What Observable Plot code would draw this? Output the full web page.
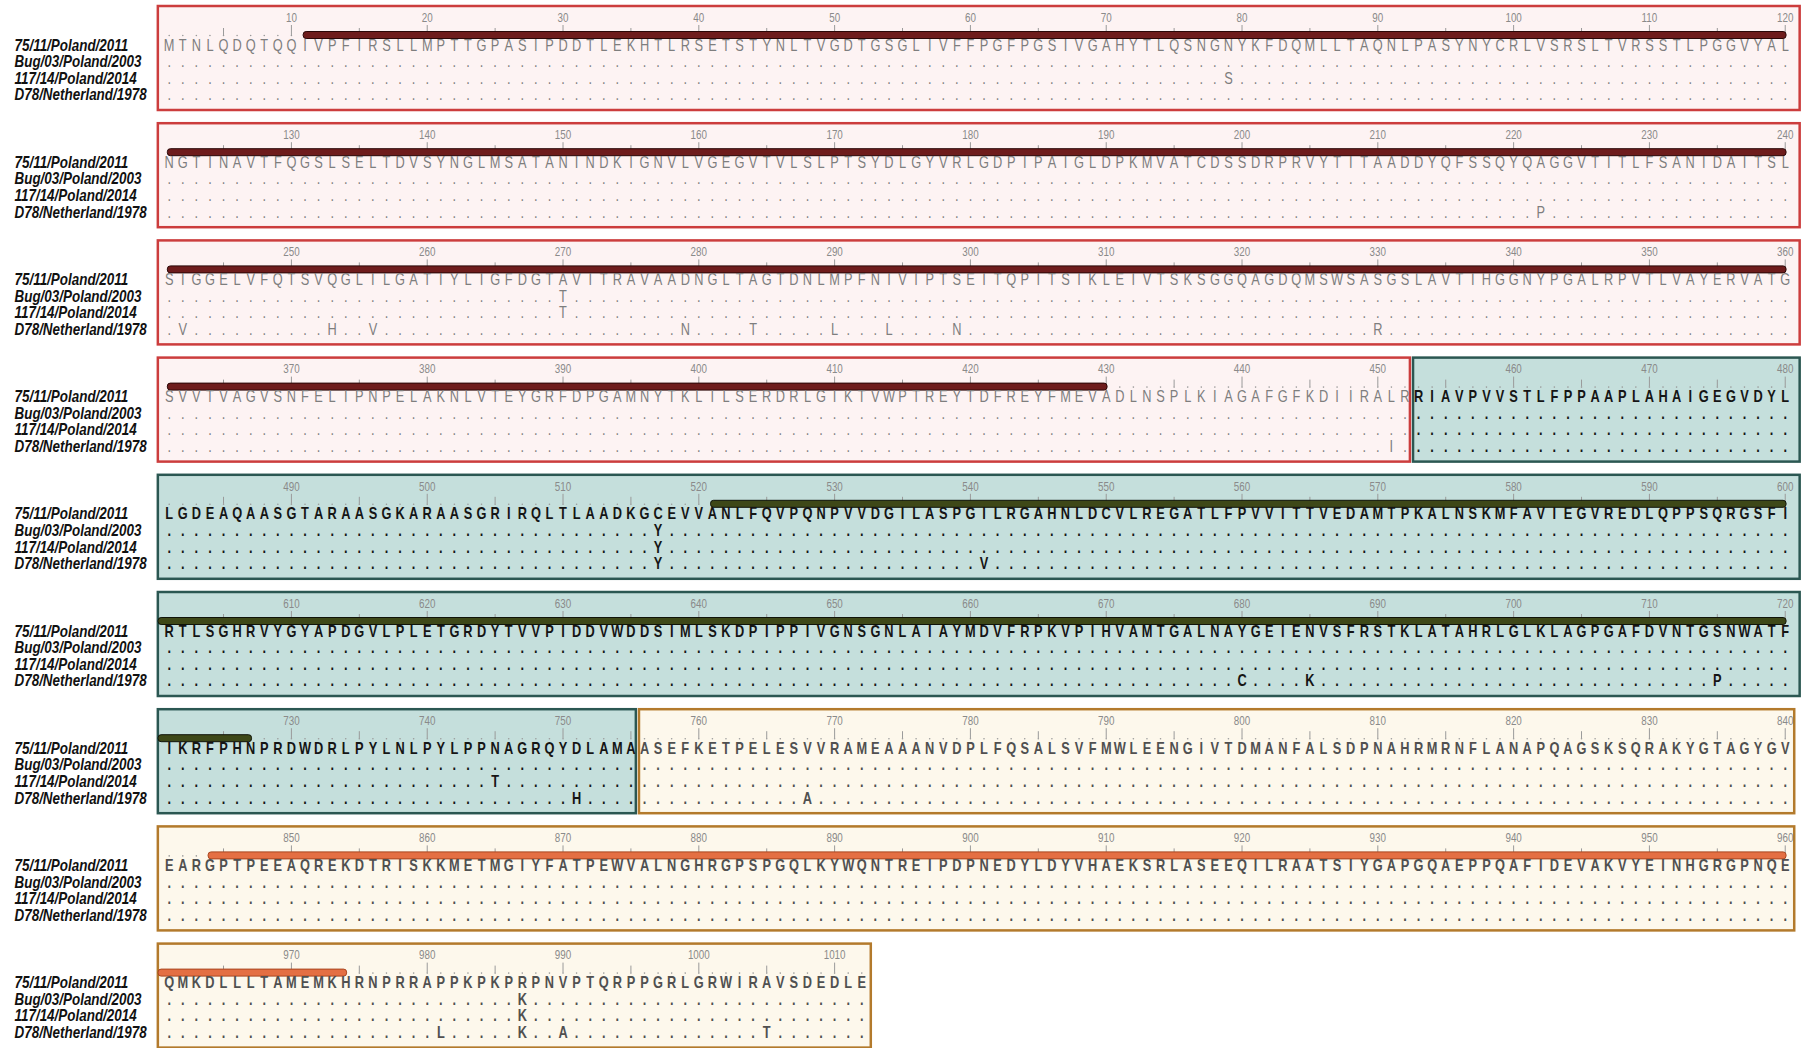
<!DOCTYPE html>
<html><head><meta charset="utf-8">
<script src="https://cdn.jsdelivr.net/npm/d3@7"></script>
<script src="https://cdn.jsdelivr.net/npm/@observablehq/plot@0.6"></script>
<style>
html,body{margin:0;padding:0;background:#fff;}
#chart svg{display:block;}
</style></head><body><div id="chart"></div>
<script>
// ---- data ----
const strains = ["75/11/Poland/2011", "Bug/03/Poland/2003", "117/14/Poland/2014", "D78/Netherland/1978"];
const referenceBlocks = [
  "MTNLQDQTQQIVPFIRSLLMPTTGPASIPDDTLEKHTLRSETSTYNLTVGDTGSGLIVFFPGFPGSIVGAHYTLQSNGNYKFDQMLLTAQNLPASYNYCRLVSRSLTVRSSTLPGGVYAL",
  "NGTINAVTFQGSLSELTDVSYNGLMSATANINDKIGNVLVGEGVTVLSLPTSYDLGYVRLGDPIPAIGLDPKMVATCDSSDRPRVYTITAADDYQFSSQYQAGGVTITLFSANIDAITSL",
  "SIGGELVFQTSVQGLILGATIYLIGFDGTAVITRAVAADNGLTAGTDNLMPFNIVIPTSEITQPITSIKLEIVTSKSGGQAGDQMSWSASGSLAVTIHGGNYPGALRPVTLVAYERVATG",
  "SVVTVAGVSNFELIPNPELAKNLVTEYGRFDPGAMNYTKLILSERDRLGIKTVWPTREYTDFREYFMEVADLNSPLKIAGAFGFKDIIRALRRIAVPVVSTLFPPAAPLAHAIGEGVDYL",
  "LGDEAQAASGTARAASGKARAASGRIRQLTLAADKGCEVVANLFQVPQNPVVDGILASPGILRGAHNLDCVLREGATLFPVVITTVEDAMTPKALNSKMFAVIEGVREDLQPPSQRGSFI",
  "RTLSGHRVYGYAPDGVLPLETGRDYTVVPIDDVWDDSIMLSKDPIPPIVGNSGNLAIAYMDVFRPKVPIHVAMTGALNAYGEIENVSFRSTKLATAHRLGLKLAGPGAFDVNTGSNWATF",
  "IKRFPHNPRDWDRLPYLNLPYLPPNAGRQYDLAMAASEFKETPELESVVRAMEAAANVDPLFQSALSVFMWLEENGIVTDMANFALSDPNAHRMRNFLANAPQAGSKSQRAKYGTAGYGV",
  "EARGPTPEEAQREKDTRISKKMETMGIYFATPEWVALNGHRGPSPGQLKYWQNTREIPDPNEDYLDYVHAEKSRLASEEQILRAATSIYGAPGQAEPPQAFIDEVAKVYEINHGRGPNQE",
  "QMKDLLLTAMEMKHRNPRRAPPKPKPRPNVPTQRPPGRLGRWIRAVSDEDLE"
];
// [strain index, position, residue]
const substitutions = [
  [2, 79, "S"],
  [3, 222, "P"],
  [3, 242, "V"], [3, 253, "H"], [3, 256, "V"],
  [1, 270, "T"], [2, 270, "T"],
  [3, 279, "N"], [3, 284, "T"], [3, 290, "L"], [3, 294, "L"], [3, 299, "N"], [3, 330, "R"],
  [3, 451, "I"],
  [1, 517, "Y"], [2, 517, "Y"], [3, 517, "Y"],
  [3, 541, "V"],
  [3, 680, "C"], [3, 685, "K"], [3, 715, "P"],
  [2, 745, "T"],
  [3, 751, "H"], [3, 768, "A"],
  [3, 981, "L"],
  [1, 987, "K"], [2, 987, "K"], [3, 987, "K"],
  [3, 990, "A"], [3, 1005, "T"]
];
const regionStart = [1, 453, 756];
const regionEnd = [452, 755, 1012];
const barStart = [11, 521, 844];
const barEnd = [430, 727, 974];

// ---- styles / layout ----
const regionStyle = [
  {fill: "#fdf3f3", stroke: "#cc3d3d", text: "#7e7e7e", weight: 400, bar: "#6e1c1c", barStroke: "#2a0707", barCont: 0.1, padR: 1.1},
  {fill: "#c5dfdc", stroke: "#2b5752", text: "#151515", weight: 700, bar: "#3e4818", barStroke: "#10140a", barCont: 0.78, padR: 1.1},
  {fill: "#fdf8ec", stroke: "#b37a2c", text: "#505050", weight: 700, bar: "#e46f43", barStroke: "#a9461f", barCont: 0.78, padR: 0.7}
];
const FONT = "'Liberation Sans',Arimo,Arial,sans-serif";
const W = 1803, H = 1048, PER = 120;
const BLOCK_PX = 117.2, TOP = 6;
const px = v => v / BLOCK_PX; // px offset inside a block -> block units
const seq = referenceBlocks.join("");
const N = seq.length;
const nBlocks = referenceBlocks.length;
const blockOf = p => Math.floor((p - 1) / PER);
const colOf = p => (p - 1) % PER + 1;
const regionOf = p => regionStart.findIndex((s, i) => p >= s && p <= regionEnd[i]);

// region boxes
const boxes = [];
for (let b = 0; b < nBlocks; b++) {
  const bs = b * PER + 1, be = Math.min((b + 1) * PER, N);
  regionStart.forEach((s, r) => {
    const s2 = Math.max(s, bs), e2 = Math.min(regionEnd[r], be);
    if (s2 > e2) return;
    const innerL = s2 > bs && s2 === s && r > 0;
    const innerR = e2 < be && e2 === regionEnd[r] && r < regionStart.length - 1;
    boxes.push({b, r, x1: colOf(s2) - (innerL ? 0.37 : 0.8), x2: colOf(e2) + (innerR ? 0.4 : regionStyle[r].padR)});
  });
}
// feature bars
const bars = [];
for (let b = 0; b < nBlocks; b++) {
  const bs = b * PER + 1, be = Math.min((b + 1) * PER, N);
  barStart.forEach((s, r) => {
    const s2 = Math.max(s, bs), e2 = Math.min(barEnd[r], be);
    if (s2 > e2) return;
    bars.push({b, r, x1: colOf(s2) - (s2 > s ? regionStyle[r].barCont : 0.1), x2: colOf(e2) + 0.1});
  });
}
// residues
const positions = d3.range(1, N + 1);
const subMap = new Map(substitutions.map(([s, p, a]) => [s + ":" + p, a]));
const cells = [];
for (const p of positions) {
  for (let s = 0; s < strains.length; s++) {
    const ch = s === 0 ? seq[p - 1] : (subMap.get(s + ":" + p) || ".");
    cells.push({p, s, ch, r: regionOf(p), b: blockOf(p), c: colOf(p)});
  }
}
const ROW0 = 39, ROWSTEP = 16.6, RULER = 29;
const rowY = d => d.b + px(ROW0 + d.s * ROWSTEP);
const labels = [];
for (let b = 0; b < nBlocks; b++) strains.forEach((name, s) => labels.push({b, s, name}));

const textMarks = regionStyle.map((st, r) => Plot.text(cells.filter(d => d.r === r), {
  x: "c", y: rowY, text: "ch", fill: st.text, fontWeight: st.weight,
  fontSize: 16, fontFamily: FONT, textAnchor: "middle", lineAnchor: "middle"
}));

const chart = Plot.plot({
  width: W, height: H, margin: 0,
  x: {domain: [1, PER], range: [168.7, 168.7 + 119 * 13.58], axis: null},
  y: {domain: [0, 9], range: [TOP, TOP + BLOCK_PX * 9], axis: null},
  style: {fontFamily: FONT, background: "#fff"},
  marks: [
    Plot.rect(boxes, {x1: "x1", x2: "x2", y1: d => d.b, y2: d => d.b + px(104),
      fill: d => regionStyle[d.r].fill, stroke: d => regionStyle[d.r].stroke, strokeWidth: 2.5}),
    Plot.dot(positions, {x: colOf, y: p => blockOf(p) + px(RULER), r: 0.8, fill: "#9a9a9a", stroke: null}),
    Plot.ruleX(positions.filter(p => p % 5 === 0), {x: colOf,
      y1: p => blockOf(p) + px(RULER - (p % 10 === 0 ? 10 : 7)), y2: p => blockOf(p) + px(RULER),
      stroke: "#9a9a9a", strokeWidth: 1}),
    Plot.rect(bars, {x1: "x1", x2: "x2", y1: d => d.b + px(RULER - 3.5), y2: d => d.b + px(RULER + 3.5),
      fill: d => regionStyle[d.r].bar, stroke: d => regionStyle[d.r].barStroke, strokeWidth: 1, rx: 3}),
    Plot.text(positions.filter(p => p % 10 === 0), {x: colOf, y: p => blockOf(p) + px(11.5), text: d => String(d),
      fill: "#8a8a8a", fontSize: 12, textAnchor: "middle", lineAnchor: "middle"}),
    ...textMarks,
    Plot.text(labels, {frameAnchor: "left", dx: 14, y: d => d.b + px(ROW0 + d.s * ROWSTEP), text: "name",
      fontSize: 16, fontWeight: 700, fontStyle: "italic", fill: "#111", textAnchor: "start", lineAnchor: "middle"})
  ]
});

// narrow (condensed) look: horizontal squeeze of each text about its anchor point
function condense(g, k) {
  g.querySelectorAll("text").forEach(t => {
    const tr = t.getAttribute("transform") || "";
    t.setAttribute("transform", `${tr} scale(${k},1)`);
  });
}
const textGroups = Array.from(chart.querySelectorAll(":scope > g[aria-label='text']"));
// order: tick numbers, sequence (3 regions), strain labels
textGroups.forEach((g, i) => {
  if (i === 0) condense(g, 0.82);
  else if (i === textGroups.length - 1) condense(g, 0.84);
  else condense(g, 0.8);
});
document.getElementById("chart").appendChild(chart);
</script></body></html>
